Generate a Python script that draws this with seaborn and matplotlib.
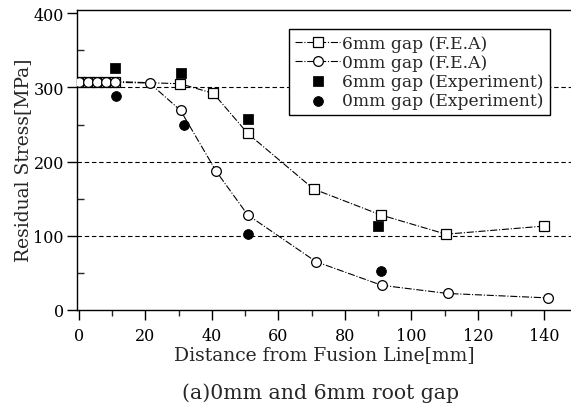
import matplotlib
matplotlib.use("Agg")
import matplotlib.pyplot as plt
import seaborn as sns
import pandas as pd

# F.E.A results
x_fea6 = [0, 2.8, 5.5, 8.3, 11, 30.5, 40.5, 50.8, 70.6, 90.8, 110.4, 140]
y_fea6 = [308, 308, 308, 308, 308, 305, 292, 238, 163, 128, 102, 113]
x_fea0 = [0, 2.8, 5.5, 8.3, 11, 21.3, 30.6, 41.3, 50.8, 71.3, 91.1, 110.9, 141.2]
y_fea0 = [307, 307, 307, 307, 307, 306, 269, 187, 128, 65, 33, 22, 16]

# experiment
x_exp6 = [10.8, 30.6, 50.8, 90.1]
y_exp6 = [326, 319, 257, 113]
x_exp0 = [11.1, 31.5, 50.8, 90.8]
y_exp0 = [289, 250, 102, 53]

labels = ["6mm gap (F.E.A)", "0mm gap (F.E.A)",
          "6mm gap (Experiment)", "0mm gap (Experiment)"]

sns.set_style("ticks")
plt.rcParams["font.family"] = ["DejaVu Serif"]

fig = plt.figure(figsize=(5.71, 4.10), dpi=100)
ax = fig.add_axes([0.135, 0.242, 0.865, 0.732])

for yv in [100, 200, 300]:
    ax.axhline(yv, color="black", lw=0.8, ls=(0, (4, 2.5)), zorder=1)

fea6 = pd.DataFrame({"x": x_fea6, "y": y_fea6})
fea0 = pd.DataFrame({"x": x_fea0, "y": y_fea0})
sns.lineplot(data=fea6, x="x", y="y", ax=ax, sort=False, color="black", lw=0.8,
             ls="-.", marker="s", markersize=6.5, markerfacecolor="white",
             markeredgecolor="black", markeredgewidth=0.9, label=labels[0], zorder=3)
sns.lineplot(data=fea0, x="x", y="y", ax=ax, sort=False, color="black", lw=0.8,
             ls="-.", marker="o", markersize=7, markerfacecolor="white",
             markeredgecolor="black", markeredgewidth=0.9, label=labels[1], zorder=4)
sns.scatterplot(x=x_exp6, y=y_exp6, ax=ax, marker="s", s=45, color="black",
                edgecolor="black", label=labels[2], zorder=5)
sns.scatterplot(x=x_exp0, y=y_exp0, ax=ax, marker="o", s=50, color="black",
                edgecolor="black", label=labels[3], zorder=5)

ax.set_xlim(-0.5, 148)
ax.set_ylim(0, 405)
ax.set_xticks(range(0, 141, 20))
ax.set_xticks(range(10, 141, 20), minor=True)
ax.set_yticks(range(0, 401, 100))
ax.set_yticks(range(50, 400, 100), minor=True)
ax.tick_params(which="major", direction="out", length=7, width=1, labelsize=11.5, colors="black")
ax.tick_params(axis="x", which="major", pad=5.5)
ax.tick_params(axis="y", which="major", pad=2.5)
ax.tick_params(axis="x", which="minor", direction="out", length=4, width=1)
ax.tick_params(axis="y", which="minor", direction="in", length=5, width=1)
for s in ["left", "bottom", "top"]:
    ax.spines[s].set_color("black")
    ax.spines[s].set_linewidth(1.0)
ax.spines["right"].set_visible(False)

ax.set_xlabel("Distance from Fusion Line[mm]", fontsize=13.5, labelpad=1)
ax.set_ylabel("Residual Stress[MPa]", fontsize=13.5, labelpad=1)

leg = ax.legend(loc="upper right", bbox_to_anchor=(0.957, 0.936), fontsize=12.3,
                frameon=True, fancybox=False, handlelength=2.6, handletextpad=0.15,
                labelspacing=0.12, borderpad=0.35, borderaxespad=0)
leg.get_frame().set_edgecolor("black")
leg.get_frame().set_linewidth(1.0)
leg.get_frame().set_alpha(1)

fig.text(0.562, 0.042, "(a)0mm and 6mm root gap", ha="center", va="center", fontsize=14.7)

fig.savefig("out.png", dpi=100)
